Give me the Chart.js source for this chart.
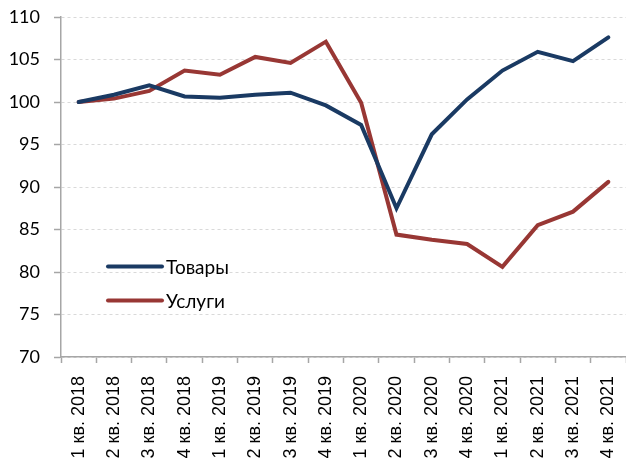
<!DOCTYPE html>
<html>
<head>
<meta charset="utf-8">
<script src="https://cdn.jsdelivr.net/npm/chart.js@4/dist/chart.umd.min.js"></script>
<style>
  html, body { margin: 0; padding: 0; background: #fff; }
  #wrap { width: 626px; height: 461px; }
</style>
</head>
<body>
<div id="wrap"><canvas id="chart" width="626" height="461"></canvas></div>
<script>
// Данные
const quarters = ['1 кв. 2018', '2 кв. 2018', '3 кв. 2018', '4 кв. 2018',
                  '1 кв. 2019', '2 кв. 2019', '3 кв. 2019', '4 кв. 2019',
                  '1 кв. 2020', '2 кв. 2020', '3 кв. 2020', '4 кв. 2020',
                  '1 кв. 2021', '2 кв. 2021', '3 кв. 2021', '4 кв. 2021'];
const goods = [100, 100.85, 101.95, 100.65, 100.5, 100.85, 101.1, 99.6,
               97.3, 87.5, 96.2, 100.3, 103.7, 105.9, 104.8, 107.6];
const services = [100, 100.4, 101.3, 103.7, 103.2, 105.3, 104.6, 107.1,
                  99.9, 84.4, 83.8, 83.3, 80.6, 85.5, 87.1, 90.6];
const seriesNames = ['Товары', 'Услуги'];
const yTicks = [70, 75, 80, 85, 90, 95, 100, 105, 110];

const NAVY = '#1A3A63';
const RED = '#983734';
const AXIS = '#a6a6a6';

// убрать автоматические отступы под подписи
function noScalePadding(scale) {
    scale.paddingTop = 0;
    scale.paddingBottom = 0;
    scale.paddingLeft = 0;
    scale.paddingRight = 0;
}

// Легенда внутри области графика
const insideLegend = {
    id: 'insideLegend',
    afterDraw(chart) {
        const ctx = chart.ctx;
        const x0 = 108, x1 = 162;
        const rows = [266.5, 300.5];
        ctx.save();
        chart.data.datasets.forEach((ds, i) => {
            const y = rows[i];
            ctx.strokeStyle = ds.borderColor;
            ctx.lineWidth = 4;
            ctx.lineCap = 'round';
            ctx.beginPath();
            ctx.moveTo(x0, y);
            ctx.lineTo(x1, y);
            ctx.stroke();
            ctx.fillStyle = '#000';
            ctx.font = '19px Lato, "Open Sans", sans-serif';
            ctx.textBaseline = 'middle';
            ctx.textAlign = 'left';
            ctx.fillText(ds.label, x1 + 4, y + 1);
        });
        ctx.restore();
    }
};

new Chart(document.getElementById('chart').getContext('2d'), {
    type: 'line',
    data: {
        labels: quarters,
        datasets: [{
            label: seriesNames[0],
            data: goods,
            borderColor: NAVY,
            backgroundColor: NAVY,
            borderWidth: 4,
            pointRadius: 0,
            tension: 0,
            borderCapStyle: 'round'
        }, {
            label: seriesNames[1],
            data: services,
            borderColor: RED,
            backgroundColor: RED,
            borderWidth: 4,
            pointRadius: 0,
            tension: 0,
            borderCapStyle: 'round'
        }]
    },
    options: {
        responsive: false,
        animation: false,
        layout: { padding: { top: 17, right: -5, left: 0, bottom: 0 } },
        plugins: {
            legend: { display: false },
            tooltip: { enabled: false }
        },
        scales: {
            x: {
                offset: true,
                grid: {
                    offset: true,
                    drawOnChartArea: false,
                    drawTicks: true,
                    tickLength: 6,
                    tickColor: AXIS,
                    tickWidth: 1.5
                },
                border: { color: AXIS, width: 1.5 },
                ticks: {
                    autoSkip: false,
                    minRotation: 90,
                    maxRotation: 90,
                    padding: 13,
                    color: '#000',
                    font: { family: '"Liberation Sans", Arial, sans-serif', size: 18 }
                },
                afterFit(scale) { scale.height = 104; noScalePadding(scale); }
            },
            y: {
                min: 70,
                max: 110,
                afterBuildTicks(scale) { scale.ticks = yTicks.map(v => ({ value: v })); },
                grid: {
                    color: '#d9d9d9',
                    lineWidth: 1,
                    tickLength: 7,
                    tickColor: AXIS,
                    tickWidth: 1.5
                },
                border: { color: AXIS, width: 1.5, dash: [3, 3] },
                ticks: {
                    padding: 14,
                    color: '#000',
                    font: { family: 'Lato, "Open Sans", sans-serif', size: 18 }
                },
                afterFit(scale) { scale.width = 61; noScalePadding(scale); }
            }
        }
    },
    plugins: [insideLegend]
});
</script>
</body>
</html>
